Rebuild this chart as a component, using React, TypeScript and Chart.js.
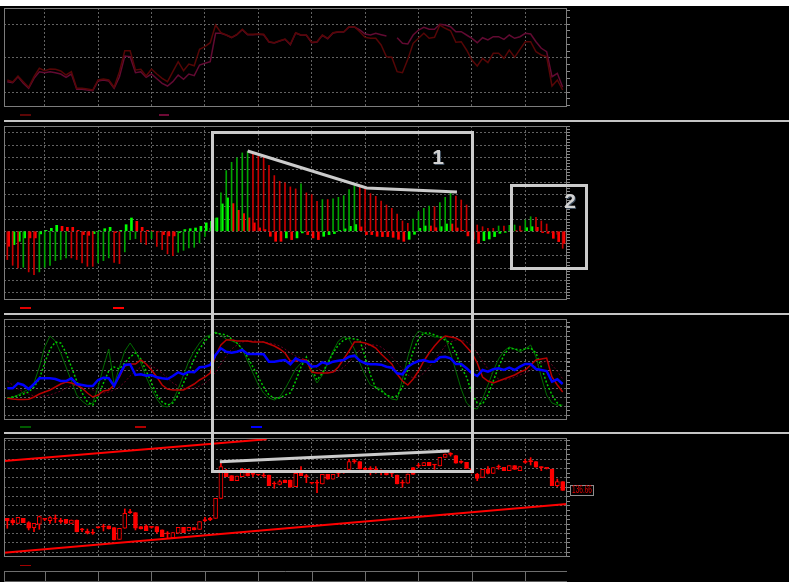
import React, { useEffect, useRef } from "react";
import { Chart, registerables } from "chart.js";

Chart.register(...registerables);

// ---------- shared x axis (bar index) ----------
const X_MIN = -0.62;
const X_MAX = 104.81;
const timeGridIdx = [7, 17, 27, 37, 47, 57, 67, 77, 87, 97];

// ---------- panel 1 : two dark oscillator lines ----------
const fastLine = [27, 25, 31, 25.3, 19.7, 30.3, 38.7, 36.3, 38, 37.7, 36, 32, 35.3, 18.7, 18.7, 18, 17, 27, 28, 27, 19.7, 35.3, 56.3, 56.3, 37, 37.7, 31, 38, 33, 28.7, 25.3, 35.3, 45.3, 36.3, 43, 41.3, 57.7, 60.3, 64.3, 82, 74.3, 72, 69.7, 72.7, 77.7, 72.7, 72.7, 73, 72.7, 65.3, 64.3, 66.3, 68, 62.7, 74.3, 72, 72, 64.7, 65.3, 72, 68.7, 74.3, 75.3, 75.3, 80.3, 80.3, 75.3, 69.7, 68.7, 68.7, 62, 50.3, 49.7, 35.3, 34.3, 47.7, 63.7, 68.7, 73.7, 68.7, 69.7, 82, 78.7, 76.3, 64.7, 65.3, 57, 47, 41, 48.7, 44.3, 53.7, 53.7, 48.7, 57, 49.7, 57.7, 65.3, 65.3, 55.3, 52, 50.3, 21, 27, 17];
const slowLine = [25.3, 24.3, 30.3, 23.7, 18.7, 28.7, 35.3, 34.3, 35.3, 34.3, 33, 29.7, 33, 17.7, 17.7, 17, 16.3, 26, 27, 26, 18.7, 30.3, 51, 50.3, 34.3, 35.3, 29.7, 33, 28.3, 23.7, 21, 25.3, 32, 27.7, 33, 31.3, 42, 43.7, 45.3, 73.7, 73.7, 72, 69.3, 72.3, 77.3, 72.3, 72.3, 72.7, 72.3, 65, 64, 66, 67.7, 62.3, 74, 71.7, 71.7, 64.3, 65, 71.7, 68.3, 74, 75, 75, 80, 80, 77, 73, 72, 73.7, 72.3, 71, null, 69.3, 63.7, 63, 72, 77, 79.7, 77.7, 77.7, 82.7, 82, 80.3, 75.3, 75.3, 72, 68.7, 64.3, 69.3, 67, 70.3, 70.3, 67.7, 72, 68.7, 70.3, 73.7, 73, 65.3, 58.7, 55.3, 30.3, 33.7, 19.7];

// ---------- panel 2 : histogram ----------
const histMain = [-28.3, -34, -36.6, -36, -40.6, -43.3, -40.6, -36, -34, -29.3, -28.3, -26.6, -26.6, -28.3, -31.6, -35, -35, -31.6, -29.3, -26.6, -31, -32.3, -20.6, -8.3, -7.3, -11, -13.3, -7.3, -15, -18.3, -22.6, -24.3, -21, -19, -16.6, -16, -11.6, -5, 3, 13, 38.4, 60.7, 69, 73.4, 78.4, 80, 78.4, 75.7, 74.4, 66, 55.7, 50, 48.4, 44.4, 42.4, 47.4, 38.4, 36.7, 30, 31.7, 31.7, 32.4, 34, 35.7, 41.7, 45.7, 45, 42.4, 37.7, 35, 30.3, 26.3, 23, 17.3, 10.3, 8, 12.3, 19.7, 23, 25.3, 24.6, 28.6, 34, 38, 35.3, 31.3, 26.3, 14, 6.3, 4.6, 3, 3, 5.3, 5.3, 6, 6.3, 5.3, 11.3, 14.6, 14, 10.3, 7.3, -1, -3, -17];
const histSignal = [-15, -13.3, -10, -6.6, -6.6, -6.6, -2.6, 1, 3, 6, 5, 4, 4, 1, -3.3, -4, -2.3, 0.6, 2.6, 4, -1.3, 1, 6.6, 13.3, 10, 4, 1, 0.3, -0.6, -3.3, -4.6, -4.6, -1.3, 1.7, 2.6, 3.3, 5, 8.4, 10, 13.4, 27.4, 33.4, 27.7, 21, 17.7, 13.4, 8.4, 3.4, 1.7, -5, -10, -10, -6.6, -8.3, -6.6, -1.6, -3.3, -6.6, -8.3, -5, -3.3, -2.3, 1, 2.4, 5, 6.7, 4.4, -3.3, -3.3, -5, -5.3, -5.3, -6, -8, -10, -8, -3, 3, 5.3, 5.3, 3.6, 4.6, 7.3, 7.3, 3.3, 1, -4.6, -8, -12, -9.3, -7.7, -5.3, -2, -1, 2, 0.5, 0.3, 3.6, 4.6, 4, -1.3, -2, -7, -10.3, -12];
const histTrendIdx = [45, 67.3, 84.2];
const histTrendVal = [80.3, 43.3, 39.3];

// ---------- panel 3 : oscillators ----------
const greenMain = [20.7, 22, 24, 27, 30, 36, 52, 72, 83, 78, 66, 52, 38, 24, 18, 14, 16, 32, 52, 70, 34, 52, 68, 76, 68, 56, 42, 30, 20, 13, 12, 18, 30, 44, 58, 68, 76, 82, 84, 87, 84, 80, 78, 76, 70, 58, 46, 34, 26, 21, 19, 22, 30, 40, 50, 56, 59, 46, 36, 44, 56, 68, 78, 82, 80, 70, 56, 44, 34, 32, 30, 24, 20, 19, 40, 62, 80, 88, 86, 84, 82, 82, 82, 66, 48, 30, 16, 11, 10, 20, 34, 48, 60, 68, 72, 70, 67, 70, 74, 62, 42, 24, 16, 14, 14];
const greenSignal = [21, 22, 23, 25, 27, 32, 40, 56, 70, 77, 76, 66, 52, 38, 26, 17, 14, 22, 36, 48, 52, 50, 56, 62, 66, 60, 48, 36, 24, 17, 14, 16, 24, 36, 48, 60, 70, 78, 83, 86, 85, 84, 80, 76, 70, 62, 52, 42, 32, 24, 21, 21, 24, 26, 38, 52, 62, 50, 39, 46, 56, 66, 74, 79, 81, 80, 79, 62, 44, 31, 28, 24, 22, 23, 32, 50, 68, 80, 86, 86, 84, 82, 79, 76, 66, 52, 42, 26, 16, 15, 24, 38, 52, 64, 71, 70, 69, 70, 71, 66, 52, 36, 24, 16, 12];
const redMain = [20.7, 20, 19.5, 19.5, 19.7, 22, 25, 27, 29, 32, 35, 37, 36, 34, 31, 26, 22, 24, 28, 29, 34, 42, 53, 55, 55, 59, 55, 49, 42, 34, 30, 29, 29, 29, 32, 35, 39, 42, 46, 64, 74, 79, 79, 78, 78, 78, 77, 77, 77, 75, 73, 70, 66, 58, 58, 59, 59, 47, 46, 46, 46, 47, 52, 60, 68, 77, 77, 76, 74, 71, 65, 60, 55, 45, 38, 34, 40, 48, 58, 66, 73, 79, 83, 82, 81, 78, 72, 66, 56, 42, 38, 36, 38, 40, 42, 44, 47, 49, 54, 59, 60, 61, 42, 34, 27];
const redSignal = [38, 34, 30, 27, 25, 23, 22, 23, 24, 26, 28, 31, 33, 34, 34, 32, 29, 27, 26, 27, 29, 32, 37, 43, 48, 52, 54, 53, 50, 46, 41, 36, 33, 31, 30, 31, 33, 36, 40, 47, 55, 63, 70, 74, 77, 78, 78, 78, 77, 76, 75, 73, 70, 66, 63, 61, 59, 55, 51, 48, 47, 47, 48, 52, 57, 63, 69, 73, 74, 74, 72, 68, 62, 56, 50, 44, 41, 42, 46, 52, 59, 66, 73, 77, 79, 79, 77, 73, 66, 58, 50, 44, 40, 39, 40, 42, 44, 46, 49, 53, 56, 58, 54, 48, 40];
const blueLine = [30.7, 30.7, 35.7, 34, 30, 35, 40.7, 40.7, 40.7, 40, 38, 38, 40.7, 35, 34, 33, 33, 39, 41.3, 40.7, 33, 44, 54, 54.7, 44, 44.7, 43.3, 44, 41.7, 40.7, 40, 43, 46.7, 44.7, 47.3, 46.7, 51.7, 52.3, 54, 64, 70.7, 67.3, 66.3, 67.3, 69, 65, 65, 65, 64.7, 57.3, 57.3, 58.3, 59, 54.7, 60.7, 58, 57.3, 52.3, 53, 56.7, 55, 57.3, 58.3, 59, 62.3, 63.3, 58.3, 55.7, 54.7, 54.7, 54.3, 52.3, 51.3, 45.7, 44.7, 52.3, 55.7, 58, 59, 57.3, 57.3, 61.7, 62.3, 60.7, 55, 55, 50.7, 45.7, 43, 49, 47.3, 49.7, 50.7, 49, 51.3, 49, 52.3, 55, 55, 50, 49, 48, 37.3, 39.7, 35];

// ---------- panel 4 : price candles ----------
const openP = [133.65, 133.47, 133.11, 133.65, 133.19, 132.65, 133.01, 133.54, 133.40, 133.58, 133.47, 133.54, 133.11, 133.47, 132.40, 132.29, 132.04, 132.65, 132.76, 132.83, 132.65, 131.39, 132.58, 134.26, 134.26, 132.76, 132.83, 132.68, 132.76, 132.40, 131.97, 131.57, 132.04, 132.68, 132.29, 132.65, 132.47, 133.40, 133.65, 133.65, 135.80, 138.67, 138.24, 137.70, 138.13, 138.92, 138.38, 138.31, 138.20, 138.31, 137.34, 137.31, 137.77, 137.77, 137.06, 138.85, 138.13, 137.42, 137.42, 137.34, 138.38, 137.85, 138.49, 138.60, 138.92, 139.75, 139.75, 138.96, 138.92, 138.85, 138.56, 138.56, 138.49, 138.31, 137.42, 137.42, 139.10, 139.28, 139.31, 139.67, 139.39, 139.28, 140.21, 140.53, 140.39, 139.67, 139.67, 139.00, 138.42, 138.06, 138.92, 138.49, 139.14, 139.14, 138.78, 139.31, 138.78, 139.67, 139.75, 139.75, 139.10, 139.03, 138.96, 137.16, 137.59];
const highP = [133.65, 133.65, 133.76, 133.65, 133.29, 133.11, 133.90, 133.65, 133.83, 134.01, 133.65, 133.54, 133.47, 133.47, 132.58, 132.50, 132.47, 132.68, 133.01, 132.83, 132.65, 132.58, 134.66, 134.62, 134.26, 132.76, 132.94, 132.76, 132.76, 132.40, 132.22, 132.11, 132.68, 132.68, 132.68, 132.65, 133.29, 133.76, 133.76, 135.80, 139.57, 138.92, 138.24, 138.20, 139.03, 138.92, 138.67, 138.38, 138.49, 138.31, 137.59, 137.77, 137.77, 137.77, 138.67, 139.21, 138.38, 137.49, 137.77, 138.38, 138.38, 138.38, 138.67, 138.67, 140.00, 140.00, 139.75, 139.10, 139.21, 139.21, 138.85, 138.56, 138.67, 138.31, 137.77, 138.42, 139.10, 139.57, 139.64, 139.67, 139.46, 140.21, 140.57, 140.71, 140.39, 139.85, 139.67, 139.10, 138.49, 138.92, 139.21, 139.10, 139.39, 139.14, 139.31, 139.31, 139.21, 140.00, 140.18, 139.75, 139.21, 139.10, 138.96, 137.88, 137.59];
const lowP = [132.58, 132.94, 133.11, 133.19, 132.40, 132.22, 132.47, 133.40, 133.11, 133.19, 133.11, 133.11, 133.11, 132.18, 132.22, 131.97, 131.93, 132.58, 132.29, 132.50, 131.32, 131.39, 132.58, 134.19, 132.40, 132.50, 132.33, 132.58, 132.04, 131.68, 131.50, 131.57, 132.04, 132.11, 132.29, 132.40, 132.47, 133.29, 133.40, 133.65, 135.80, 138.13, 137.70, 137.70, 138.13, 138.20, 138.13, 138.24, 138.06, 137.16, 136.88, 137.24, 137.49, 136.99, 137.06, 138.24, 137.49, 137.34, 136.41, 137.34, 137.85, 137.85, 138.13, 138.49, 138.85, 139.57, 138.96, 138.78, 138.31, 138.49, 138.31, 138.31, 138.13, 137.34, 136.99, 137.42, 138.38, 139.14, 139.31, 139.31, 138.92, 139.28, 140.21, 140.35, 139.57, 139.57, 139.03, 138.50, 137.70, 138.06, 138.42, 138.49, 138.92, 138.78, 138.78, 138.92, 138.78, 139.57, 139.39, 139.14, 138.78, 138.96, 137.16, 137.06, 136.66];
const closeP = [133.40, 133.19, 133.76, 133.19, 132.58, 133.11, 133.83, 133.54, 133.72, 133.58, 133.29, 133.11, 133.47, 132.22, 132.40, 132.04, 132.04, 132.65, 132.72, 132.50, 131.32, 132.58, 134.19, 134.26, 132.58, 132.50, 132.33, 132.68, 132.22, 131.68, 131.97, 132.11, 132.68, 132.11, 132.68, 132.40, 133.29, 133.40, 133.47, 135.80, 139.21, 138.13, 137.70, 138.20, 138.92, 138.20, 138.38, 138.31, 138.20, 137.16, 137.34, 137.59, 137.49, 136.99, 138.49, 138.24, 138.13, 137.42, 137.42, 138.38, 137.85, 138.38, 138.49, 138.60, 139.75, 139.75, 138.96, 138.92, 138.92, 138.85, 138.56, 138.31, 138.49, 137.34, 137.42, 138.42, 138.38, 139.28, 139.64, 139.31, 139.39, 140.21, 140.57, 140.53, 139.57, 139.67, 139.03, 138.60, 137.95, 138.92, 138.49, 139.10, 139.14, 138.78, 139.31, 138.92, 139.21, 139.67, 139.75, 139.14, 139.10, 139.03, 137.16, 137.59, 136.66];
const upperChannelIdx = [-0.62, 48.57];
const upperChannelVal = [139.82, 142.15];
const lowerChannelIdx = [-0.62, 104.81];
const lowerChannelVal = [129.96, 135.19];
const supportIdx = [39.8, 82.8];
const supportVal = [139.74, 140.89];

// ---------- styling ----------
const GRID = "#626262";
const FRAME = "#7c7c7c";
const TICK = "#8a8a8a";
const RED = "#ff0000";
const MARK = "#cbcbcb";

const seq = (start: number, step: number, end: number) => {
  const n = Math.floor((end - start) / step + 1e-6) + 1;
  return Array.from({ length: n }, (_, k) => +(start + k * step).toFixed(4));
};
const pts = (arr: (number | null)[], shift = 0) => arr.map((v, i) => ({ x: i + shift, y: v }));
const zipPts = (xs: number[], ys: number[]) => xs.map((x, i) => ({ x, y: ys[i] }));

const framePlugin = {
  id: "frame",
  afterDraw(chart: any) {
    const { ctx, chartArea: a } = chart;
    ctx.save();
    ctx.strokeStyle = FRAME;
    ctx.lineWidth = 1;
    ctx.strokeRect(a.left + 0.5, a.top + 0.5, a.right - a.left - 1, a.bottom - a.top - 1);
    ctx.restore();
  },
};

function baseOptions(yMin: number, yMax: number, majors: number[], minors: number[], padBottom = 4): any {
  const all = Array.from(new Set([...majors, ...minors]))
    .filter((v) => v >= yMin && v <= yMax)
    .sort((a, b) => a - b);
  const isMajor = (v: number) => majors.some((m) => Math.abs(m - v) < 1e-6);
  return {
    responsive: false,
    animation: false,
    events: [],
    layout: { padding: { left: 4, right: 33, top: 4, bottom: padBottom } },
    plugins: { legend: { display: false }, tooltip: { enabled: false } },
    scales: {
      x: {
        type: "linear",
        min: X_MIN,
        max: X_MAX,
        offset: false,
        bounds: "data",
        afterBuildTicks: (ax: any) => {
          ax.ticks = timeGridIdx.map((v) => ({ value: v }));
        },
        afterFit: (ax: any) => {
          ax.height = 0;
        },
        ticks: { display: false },
        grid: { color: GRID, lineWidth: 1, drawTicks: false, offset: false },
        border: { display: false, dash: [2, 2] },
      },
      y: {
        type: "linear",
        position: "right",
        min: yMin,
        max: yMax,
        bounds: "data",
        afterBuildTicks: (ax: any) => {
          ax.ticks = all.map((v) => ({ value: v }));
        },
        afterFit: (ax: any) => {
          ax.width = 0;
        },
        ticks: { display: false },
        grid: {
          color: (c: any) => (c.tick && isMajor(c.tick.value) ? GRID : "rgba(0,0,0,0)"),
          lineWidth: 1,
          drawTicks: true,
          tickLength: 3,
          tickColor: TICK,
          tickWidth: 1,
        },
        border: { display: false, dash: [2, 2] },
      },
    },
  };
}

const line = (data: any[], color: string, width: number, order: number, dash?: number[]) => ({
  type: "line",
  data,
  borderColor: color,
  borderWidth: width,
  borderDash: dash || [],
  pointRadius: 0,
  tension: 0,
  spanGaps: false,
  order,
});

const timeStripPlugin = {
  id: "timeStrip",
  afterDraw(chart: any) {
    const { ctx, chartArea: a, scales } = chart;
    const top = a.bottom + 14;
    ctx.save();
    ctx.strokeStyle = "#6e6e6e";
    ctx.lineWidth = 1;
    ctx.beginPath();
    ctx.moveTo(a.left, top + 0.5);
    ctx.lineTo(a.right, top + 0.5);
    const xs = [a.left + 0.5, ...timeGridIdx.map((v) => Math.round(scales.x.getPixelForValue(v)) + 0.5)];
    xs.forEach((x) => {
      ctx.moveTo(x, top);
      ctx.lineTo(x, top + 10);
    });
    ctx.stroke();
    ctx.fillStyle = "#5e5e5e";
    ctx.fillRect(a.left, top + 10, a.right - a.left, 2);
    ctx.restore();
  },
};

const priceTagPlugin = {
  id: "priceTag",
  afterDraw(chart: any) {
    const { ctx, chartArea: a, scales } = chart;
    const last = closeP[closeP.length - 1];
    const y = Math.round(scales.y.getPixelForValue(last));
    const x0 = a.right + 3;
    ctx.save();
    ctx.fillStyle = "#000";
    ctx.fillRect(x0, y - 5, 24, 11);
    ctx.strokeStyle = "#8e8e8e";
    ctx.lineWidth = 1;
    ctx.strokeRect(x0 + 0.5, y - 4.5, 23, 10);
    const label = last.toFixed(2);
    ctx.font = '10px "Liberation Sans", Arial, sans-serif';
    const w = ctx.measureText(label).width;
    ctx.translate(x0 + 2, y + 0.5);
    ctx.scale(20 / w, 1);
    ctx.fillStyle = "#e80000";
    ctx.textBaseline = "middle";
    ctx.fillText(label, 0, 0);
    ctx.restore();
  },
};

export default function App() {
  const c1 = useRef<HTMLCanvasElement>(null);
  const c2 = useRef<HTMLCanvasElement>(null);
  const c3 = useRef<HTMLCanvasElement>(null);
  const c4 = useRef<HTMLCanvasElement>(null);

  useEffect(() => {
    const charts: Chart[] = [];

    // Panel 1
    charts.push(
      new Chart(c1.current as HTMLCanvasElement, {
        type: "line",
        data: {
          datasets: [
            line(pts(fastLine), "#560606", 1.5, 1),
            line(pts(slowLine), "#620a32", 1.5, 2),
          ] as any,
        },
        options: baseOptions(0, 99, [15, 49, 83], seq(1.4, 6.8, 99)),
        plugins: [framePlugin],
      } as any)
    );

    // Panel 2
    const mainColors = histMain.map((v, i) => (i > 0 && v > histMain[i - 1] ? "#00a400" : "#c80000"));
    const sigColors = histSignal.map((v, i) => (i > 0 && v > histSignal[i - 1] ? "#00ff00" : "#ff0000"));
    charts.push(
      new Chart(c2.current as HTMLCanvasElement, {
        type: "bar",
        data: {
          datasets: [
            {
              type: "bar",
              data: pts(histMain),
              backgroundColor: mainColors,
              barThickness: 1,
              grouped: false,
              order: 2,
            },
            {
              type: "bar",
              data: pts(histSignal, 0.25),
              backgroundColor: sigColors,
              barThickness: 2,
              grouped: false,
              order: 3,
            },
            line(zipPts(histTrendIdx, histTrendVal), MARK, 3, 0),
          ] as any,
        },
        options: baseOptions(-68.7, 105.3, seq(-61.5, 12.3, 99), seq(-67.65, 3.075, 105)),
        plugins: [framePlugin],
      } as any)
    );

    // Panel 3
    charts.push(
      new Chart(c3.current as HTMLCanvasElement, {
        type: "line",
        data: {
          datasets: [
            line(pts(redSignal), "#6a0022", 1, 5, [2, 2]),
            line(pts(greenMain), "#006a00", 1, 4),
            line(pts(greenSignal), "#00c800", 1.5, 3, [2, 2]),
            line(pts(redMain), "#b80000", 1.5, 2),
            line(pts(blueLine), "#0000ff", 2.5, 0),
          ] as any,
        },
        options: baseOptions(-1, 100, [3.7, 13, 21.7, 30.7, 48.3, 57.3, 66.3, 83, 92.3], seq(3.7, 4.4, 100)),
        plugins: [framePlugin],
      } as any)
    );

    // Panel 4
    charts.push(
      new Chart(c4.current as HTMLCanvasElement, {
        type: "bar",
        data: {
          datasets: [
            line(zipPts(upperChannelIdx, upperChannelVal), RED, 2, 4),
            line(zipPts(lowerChannelIdx, lowerChannelVal), RED, 2, 4),
            {
              type: "bar",
              data: lowP.map((l, i) => ({ x: i, y: [l, highP[i]] })),
              backgroundColor: RED,
              barThickness: 1,
              grouped: false,
              minBarLength: 1,
              order: 3,
            },
            {
              type: "bar",
              data: openP.map((o, i) => ({ x: i, y: [o, closeP[i]] })),
              backgroundColor: openP.map((o, i) => (closeP[i] > o ? "#000000" : RED)),
              borderColor: RED,
              borderWidth: 1,
              borderSkipped: false,
              barThickness: 4,
              grouped: false,
              minBarLength: 1,
              order: 2,
            },
            line(zipPts(supportIdx, supportVal), MARK, 3, 0),
          ] as any,
        },
        options: baseOptions(129.49, 142.29, seq(130, 1, 142), seq(129.5, 0.5, 142), 25),
        plugins: [framePlugin, timeStripPlugin, priceTagPlugin],
      } as any)
    );

    return () => charts.forEach((c) => c.destroy());
  }, []);

  const cv = (top: number, height: number): React.CSSProperties => ({
    position: "absolute",
    left: 0,
    top,
    width: 600,
    height,
  });
  const dash = (left: number, top: number, width: number, color: string, h = 2): React.CSSProperties => ({
    position: "absolute",
    left,
    top,
    width,
    height: h,
    background: color,
  });
  const sep = (top: number): React.CSSProperties => ({
    position: "absolute",
    left: 4,
    top,
    width: 785,
    height: 2,
    background: "#c4c4c4",
  });
  const box = (left: number, top: number, width: number, height: number): React.CSSProperties => ({
    position: "absolute",
    left,
    top,
    width,
    height,
    boxSizing: "border-box",
    border: `3px solid ${MARK}`,
  });
  const digit = (left: number, top: number): React.CSSProperties => ({
    position: "absolute",
    left,
    top,
    width: 20,
    textAlign: "center",
    font: 'bold 21px "Liberation Sans", Arial, sans-serif',
    lineHeight: "21px",
    color: "#d2d2d2",
    textShadow: "1px 1px 0 #3a4a5a",
  });

  return (
    <div
      style={{
        position: "fixed",
        left: 0,
        top: 0,
        width: 789,
        height: 582,
        background: "#000",
        overflow: "hidden",
      }}
    >
      <div style={{ position: "absolute", left: 0, top: 0, width: 789, height: 6, background: "#fff" }} />
      <canvas ref={c1} width={600} height={107} style={cv(4, 107)} />
      <canvas ref={c2} width={600} height={182} style={cv(122, 182)} />
      <canvas ref={c3} width={600} height={109} style={cv(315, 109)} />
      <canvas ref={c4} width={600} height={148} style={cv(434, 148)} />

      <div style={sep(120)} />
      <div style={sep(313)} />
      <div style={sep(432)} />

      <div style={dash(20, 114, 11, "#5c0606")} />
      <div style={dash(159, 114, 10, "#6e0a36")} />
      <div style={dash(20, 307, 11, "#e00000")} />
      <div style={dash(113, 307, 11, "#ff0000")} />
      <div style={dash(20, 426, 11, "#005a00")} />
      <div style={dash(135, 426, 11, "#b00000")} />
      <div style={dash(251, 426, 11, "#0000ff")} />
      <div style={dash(20, 565, 11, "#a00000", 1)} />

      <div style={box(211, 131, 263, 342)} />
      <div style={box(510, 184, 78, 86)} />
      <div style={digit(428, 146)}>1</div>
      <div style={digit(560, 190)}>2</div>
    </div>
  );
}
